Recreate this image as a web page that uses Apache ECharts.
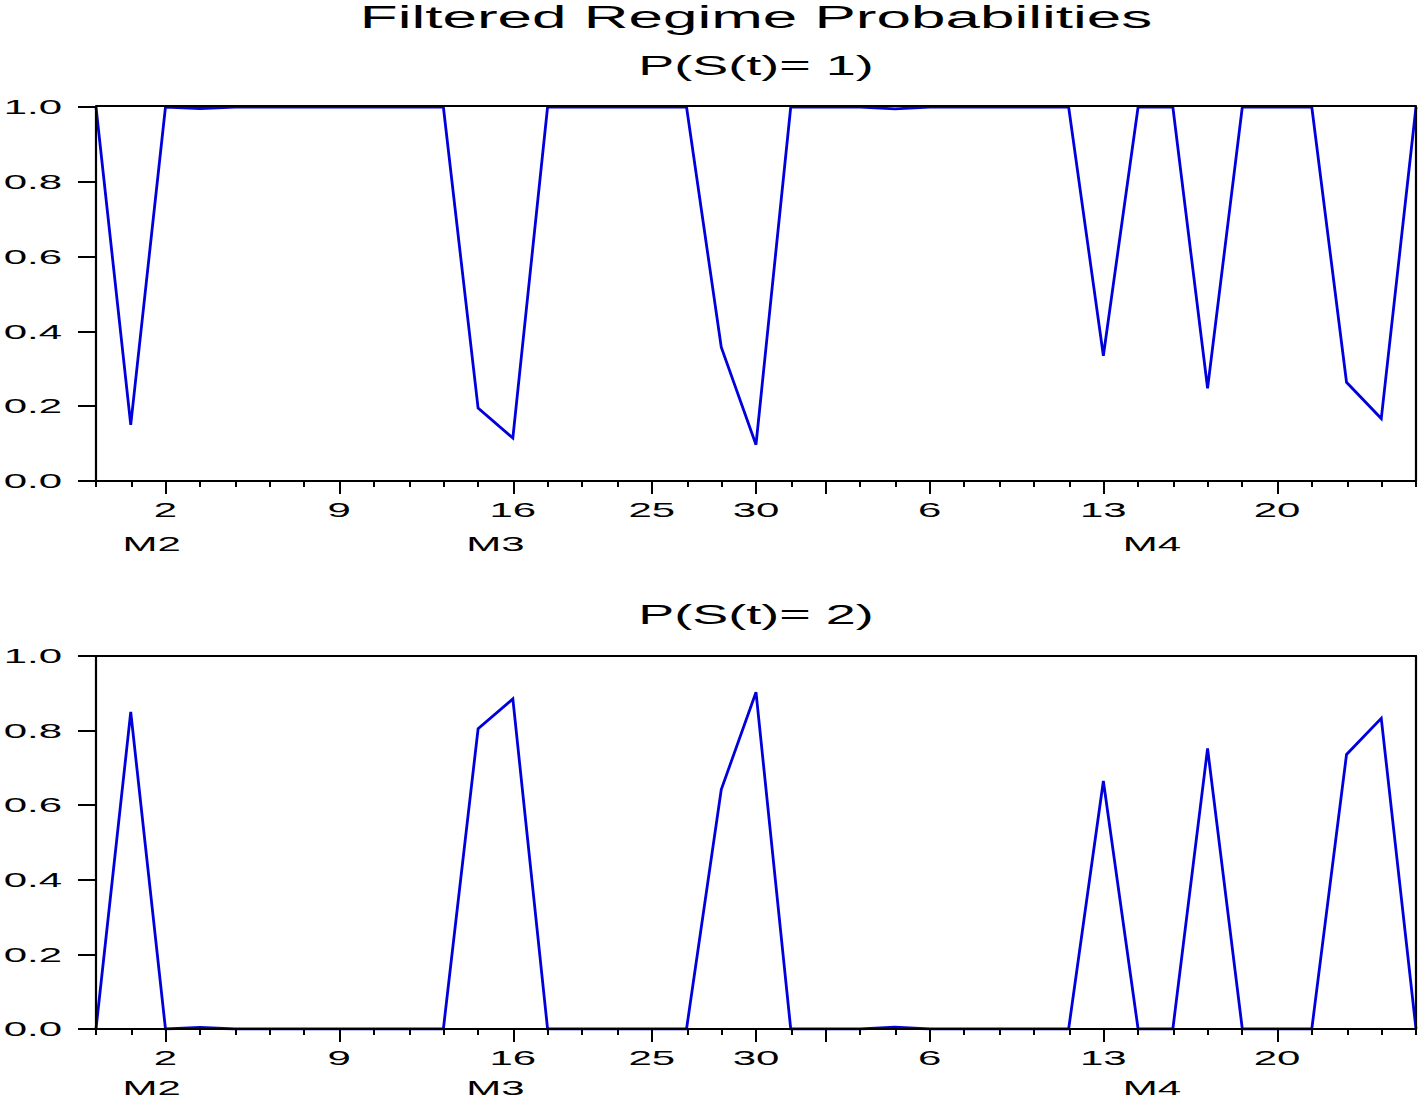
<!DOCTYPE html>
<html>
<head>
<meta charset="utf-8">
<script src="https://cdn.jsdelivr.net/npm/echarts@6/dist/echarts.min.js"></script>
<style>
html, body { margin: 0; padding: 0; background: #ffffff; }
#chart { width: 1418px; height: 1099px; overflow: hidden; }
#chart > div { width: 1418px !important; }
#chart svg { width: 1418px !important; }
#chart svg path { vector-effect: non-scaling-stroke; }
</style>
</head>
<body>
<div id="chart"></div>
<script>
// ---------------- data ----------------
const mainTitle = 'Filtered Regime Probabilities';
const panelTitles = ['P(S(t)= 1)', 'P(S(t)= 2)'];

// one entry per observation; labelled days only at the major ticks
const tickLabels = ['', '', '2', '', '', '', '', '9', '', '', '', '', '16', '', '', '', '25', '', '', '30',
                    '', '', '', '', '6', '', '', '', '', '13', '', '', '', '', '20', '', '', '', ''];
const majorTicks = [2, 7, 12, 16, 19, 21, 24, 29, 34];
const monthLabels = ['M2', 'M3', 'M4'];
const monthAt = [1.6, 11.5, 30.4];

const probRegime1 = [1.000, 0.150, 1.000, 0.996, 1.000, 1.000, 1.000, 1.000, 1.000, 1.000,
                     1.000, 0.195, 0.115, 1.000, 1.000, 1.000, 1.000, 1.000, 0.358, 0.097,
                     1.000, 1.000, 1.000, 0.995, 1.000, 1.000, 1.000, 1.000, 1.000, 0.335,
                     1.000, 1.000, 0.248, 1.000, 1.000, 1.000, 0.264, 0.167, 1.000];
const probRegime2 = [0.000, 0.850, 0.000, 0.004, 0.000, 0.000, 0.000, 0.000, 0.000, 0.000,
                     0.000, 0.805, 0.885, 0.000, 0.000, 0.000, 0.000, 0.000, 0.642, 0.903,
                     0.000, 0.000, 0.000, 0.005, 0.000, 0.000, 0.000, 0.000, 0.000, 0.665,
                     0.000, 0.000, 0.752, 0.000, 0.000, 0.000, 0.736, 0.833, 0.000];

// ---------------- layout / style ----------------
const W = 709, H = 1099, STRETCH = 2;
const FONT = 'Liberation Sans';
const BLACK = '#000000';
const BLUE = '#0000dd';
const AXIS_W = 2.2;
const panels = [
  { grid: { left: 48, top: 107, width: 660, height: 374 }, values: probRegime1, titleTop: 47, topOffset: 1, monthMargin: 52 },
  { grid: { left: 48, top: 656, width: 660, height: 373 }, values: probRegime2, titleTop: 596, topOffset: 0, monthMargin: 48 }
];
const labelFont = { color: BLACK, fontFamily: FONT, fontSize: 21 };
const CENTER_X = 373; // title padding (5) is added by the title component

const grid = [], xAxis = [], yAxis = [], series = [];
const title = [{
  text: mainTitle, left: CENTER_X, top: -3, textAlign: 'center',
  textStyle: { color: BLACK, fontFamily: FONT, fontSize: 31, fontWeight: 'normal' }
}];

panels.forEach((p, gi) => {
  grid.push(Object.assign({ containLabel: false, outerBoundsMode: 'none' }, p.grid));
  title.push({
    text: panelTitles[gi], left: CENTER_X, top: p.titleTop, textAlign: 'center',
    textStyle: { color: BLACK, fontFamily: FONT, fontSize: 27, fontWeight: 'normal' }
  });
  const xBase = xAxis.length;
  // axis line, minor ticks, day labels
  xAxis.push({
    gridIndex: gi, type: 'category', data: tickLabels, boundaryGap: false, position: 'bottom', z: 5,
    axisLine: { onZero: false, lineStyle: { color: BLACK, width: AXIS_W } },
    axisTick: { show: true, interval: 0, length: 6, lineStyle: { color: BLACK, width: 2 } },
    axisLabel: Object.assign({ interval: 0, margin: 18 }, labelFont),
    splitLine: { show: false }
  });
  // major ticks
  xAxis.push({
    gridIndex: gi, type: 'category', data: tickLabels, boundaryGap: false, position: 'bottom', z: 5,
    axisLine: { show: false, onZero: false },
    axisTick: { show: true, interval: (i) => majorTicks.includes(i), length: 13, lineStyle: { color: BLACK, width: 2 } },
    axisLabel: { show: false }, splitLine: { show: false }
  });
  // month labels
  xAxis.push({
    gridIndex: gi, type: 'value', min: 0, max: tickLabels.length - 1, position: 'bottom', z: 5,
    axisLine: { show: false, onZero: false }, axisTick: { show: false }, splitLine: { show: false },
    axisLabel: Object.assign({
      customValues: monthAt, margin: p.monthMargin, showMinLabel: true, showMaxLabel: true,
      formatter: (v) => {
        const k = monthAt.findIndex(m => Math.abs(m - v) < 1e-6);
        return k >= 0 ? monthLabels[k] : '';
      }
    }, labelFont)
  });
  // top frame
  xAxis.push({
    gridIndex: gi, type: 'category', data: tickLabels, boundaryGap: false, position: 'top', offset: p.topOffset, z: 5,
    axisLine: { onZero: false, lineStyle: { color: BLACK, width: AXIS_W } },
    axisTick: { show: false }, axisLabel: { show: false }, splitLine: { show: false }
  });
  const yBase = yAxis.length;
  yAxis.push({
    gridIndex: gi, type: 'value', min: 0, max: 1, interval: 0.2, position: 'left', z: 5,
    axisLine: { show: true, onZero: false, lineStyle: { color: BLACK, width: AXIS_W } },
    axisTick: { show: true, length: 9, lineStyle: { color: BLACK, width: 2 } },
    axisLabel: Object.assign({ margin: 17, formatter: (v) => v.toFixed(1) }, labelFont),
    splitLine: { show: false }
  });
  yAxis.push({
    gridIndex: gi, type: 'value', min: 0, max: 1, interval: 0.2, position: 'right', z: 5,
    axisLine: { show: true, onZero: false, lineStyle: { color: BLACK, width: AXIS_W } },
    axisTick: { show: false }, axisLabel: { show: false }, splitLine: { show: false }
  });
  series.push({
    type: 'line', xAxisIndex: xBase, yAxisIndex: yBase, data: p.values,
    showSymbol: false, symbol: 'none', smooth: false, z: 2,
    lineStyle: { color: BLUE, width: 2.8, join: 'miter' }
  });
});

const option = { animation: false, backgroundColor: '#ffffff', title, grid, xAxis, yAxis, series };

const dom = document.getElementById('chart');
const chart = echarts.init(dom, null, { renderer: 'svg', width: W, height: H });
chart.setOption(option);

function stretch() {
  const svg = dom.querySelector('svg');
  if (!svg) return;
  svg.setAttribute('viewBox', '0 0 ' + W + ' ' + H);
  svg.setAttribute('preserveAspectRatio', 'none');
  svg.setAttribute('width', W * STRETCH);
  if (svg.parentNode && svg.parentNode !== dom) svg.parentNode.style.width = (W * STRETCH) + 'px';
}
stretch();
chart.on('finished', stretch);
</script>
</body>
</html>
